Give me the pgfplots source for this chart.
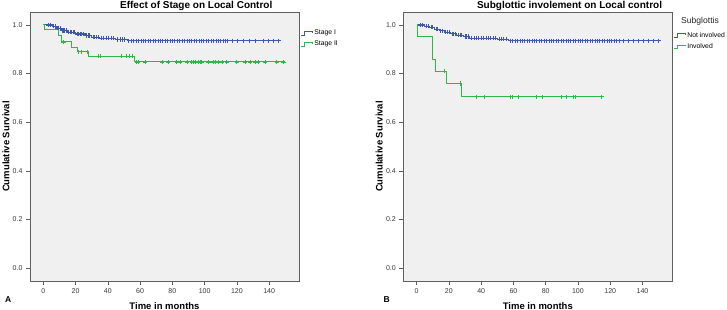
\documentclass[border=0pt]{standalone}
\usepackage{fontspec}
\setmainfont{Liberation Sans}
\usepackage{pgfplots}
\pgfplotsset{compat=1.18}
\definecolor{spssblue}{RGB}{62,88,172}
\definecolor{spssgreen}{RGB}{46,184,72}
\definecolor{bggray}{RGB}{240,240,240}
\definecolor{framegray}{RGB}{95,95,95}
\definecolor{ticktext}{RGB}{55,55,55}
\pgfplotsset{
 kmstyle/.style={
  scale only axis, width=269pt, height=269pt,
  xmin=-8.25, xmax=158.5, ymin=-0.053, ymax=1.053,
  axis background/.style={fill=bggray},
  axis line style={draw=framegray, line width=0.9pt},
  xtick={0,20,...,140}, ytick={0,0.2,0.4,0.6,0.8,1.0},
  tick align=outside, tick pos=left,
  major tick length=4pt,
  every tick/.style={framegray, line width=0.6pt},
  tick label style={font=\fontsize{7}{8}\selectfont, text=ticktext},
  yticklabel style={/pgf/number format/.cd, fixed, fixed zerofill, precision=1},
  /pgf/number format/assume math mode=true,
  xlabel={Time in months}, ylabel={Cumulative Survival},
  label style={font=\bfseries\fontsize{9.5}{11}\selectfont},
  xlabel style={at={(rel axis cs:0.5,-0.1041)}, anchor=base},
  ylabel style={at={(rel axis cs:-0.0892,0.5)}, anchor=center},
  every axis title shift=0pt,
  title style={at={(axis description cs:0.618,1.0123)}, anchor=base, font=\bfseries\fontsize{10}{12}\selectfont},
  legend cell align=left,
  legend image code/.code={\draw[line width=0.8pt, #1] (0pt,-1.8pt) -- (3.5pt,-1.8pt) -- (3.5pt,1.8pt) -- (11pt,1.8pt) -- (11pt,0.6pt);},
  legend style={draw=none, fill=none, inner sep=0pt, outer sep=0pt,
    font=\fontsize{6.8}{8}\selectfont, row sep=0.8pt, anchor=north west,
    /tikz/every even column/.append style={column sep=1pt}},
 },
 kmline/.style={const plot, line width=0.95pt, no marks},
 kmcens/.style={only marks, mark=+, mark size=2.1pt, mark options={line width=0.65pt}, forget plot},
}
\begin{document}
\begin{tikzpicture}
\useasboundingbox (0,0) rectangle (727pt,310pt);
% ---------------- Panel A ----------------
\begin{axis}[kmstyle, at={(30pt,29pt)}, anchor=south west,
  title={Effect of Stage on Local Control},
  legend style={at={(rel axis cs:1.006,0.94)}}]
\addplot[kmline, color=spssblue] table {
t S
0 1.000
6 0.994
8 0.986
11 0.977
15 0.970
20 0.963
26 0.956
30 0.949
35 0.945
45 0.940
52 0.935
147 0.935
};
\addlegendentry{Stage I}
\addplot[kmline, color=spssgreen] table {
t S
0 1.000
0.5 0.980
9.5 0.955
11 0.930
17.5 0.908
21 0.890
28 0.872
56.6 0.848
150 0.848
};
\addlegendentry{Stage II}
\addplot[kmcens, color=spssblue] table {
t S
3 1.000
4.6 1.000
6.5 0.994
7.2 0.994
8.8 0.986
9.6 0.986
10.3 0.986
11.6 0.977
12.4 0.977
13.2 0.977
14.2 0.977
15.6 0.970
16.5 0.970
17.4 0.970
18.3 0.970
19.2 0.970
20.8 0.963
21.8 0.963
22.8 0.963
23.8 0.963
24.8 0.963
26.8 0.956
27.8 0.956
28.8 0.956
30.8 0.949
31.8 0.949
32.8 0.949
33.8 0.949
36 0.945
37.5 0.945
39 0.945
40.5 0.945
42 0.945
43.5 0.945
46 0.940
47.5 0.940
49 0.940
50.5 0.940
53 0.935
54.5 0.935
56 0.935
57.5 0.935
59 0.935
60.5 0.935
62 0.935
63.5 0.935
65 0.935
66.5 0.935
68 0.935
69.5 0.935
71 0.935
72.5 0.935
74 0.935
75.5 0.935
77 0.935
78.5 0.935
80 0.935
81.5 0.935
83 0.935
84.5 0.935
86 0.935
87.5 0.935
89 0.935
90.5 0.935
92 0.935
93.5 0.935
95 0.935
96.5 0.935
98 0.935
99.5 0.935
101 0.935
102.5 0.935
104 0.935
105.5 0.935
107 0.935
108.5 0.935
110 0.935
111.5 0.935
113 0.935
114 0.935
117 0.935
120.3 0.935
124 0.935
127.6 0.935
131.3 0.935
136.5 0.935
139.6 0.935
142.7 0.935
145.8 0.935
};
\addplot[kmcens, color=spssgreen] table {
t S
12.5 0.930
22 0.890
23.5 0.890
27 0.890
34 0.872
35.5 0.872
48.6 0.872
51.4 0.872
53.4 0.872
55.4 0.872
57.9 0.848
58.9 0.848
63.1 0.848
73.8 0.848
77.5 0.848
82.7 0.848
84.8 0.848
89 0.848
92 0.848
93 0.848
94.1 0.848
96.2 0.848
97.2 0.848
98.2 0.848
102.4 0.848
105.5 0.848
106.6 0.848
108.6 0.848
110.7 0.848
113.7 0.848
119.9 0.848
125.1 0.848
128.2 0.848
131.3 0.848
133.3 0.848
137.6 0.848
144.7 0.848
148.9 0.848
};
\end{axis}
% ---------------- Panel B ----------------
\begin{axis}[kmstyle, at={(403.3pt,29pt)}, anchor=south west,
  title={Subglottic involement on Local control},
  legend style={at={(rel axis cs:1.005,0.932)}}]
\addplot[kmline, color=spssblue] table {
t S
0 1.000
5 0.995
8 0.990
11 0.983
14 0.976
17 0.970
21 0.964
25 0.958
29 0.952
33 0.946
50 0.941
57 0.935
150 0.935
};
\addlegendentry{Not involved}
\addplot[kmline, color=spssgreen] table {
t S
0 1.000
0.4 0.952
9.9 0.857
11.5 0.810
18.2 0.759
27.9 0.705
114.8 0.705
};
\addlegendentry{Involved}
\addplot[kmcens, color=spssblue] table {
t S
2 1.000
3.5 1.000
6 0.995
7 0.995
9 0.990
10 0.990
12 0.983
13 0.983
15 0.976
16 0.976
18 0.970
19 0.970
20 0.970
22 0.964
23 0.964
24 0.964
26 0.958
27 0.958
28 0.958
30 0.952
31 0.952
32 0.952
34 0.946
35.5 0.946
37 0.946
38.5 0.946
40 0.946
41.5 0.946
43 0.946
44.5 0.946
46 0.946
47.5 0.946
49 0.946
51 0.941
52.5 0.941
54 0.941
55.5 0.941
58 0.935
59.5 0.935
61 0.935
62.5 0.935
64 0.935
65.5 0.935
67 0.935
68.5 0.935
70 0.935
71.5 0.935
73 0.935
74.5 0.935
76 0.935
77.5 0.935
79 0.935
80.5 0.935
82 0.935
83.5 0.935
85 0.935
86.5 0.935
88 0.935
89.5 0.935
91 0.935
92.5 0.935
94 0.935
95.5 0.935
97 0.935
98.5 0.935
100 0.935
101.5 0.935
103 0.935
104.5 0.935
106 0.935
107.5 0.935
109 0.935
110.5 0.935
112 0.935
113.5 0.935
115 0.935
116.5 0.935
118 0.935
119.5 0.935
121 0.935
122.5 0.935
124 0.935
125.5 0.935
128 0.935
131.3 0.935
134.4 0.935
137.5 0.935
140.6 0.935
143.7 0.935
146.8 0.935
149.9 0.935
};
\addplot[kmcens, color=spssgreen] table {
t S
17.4 0.810
27.0 0.759
36.8 0.705
42 0.705
57.9 0.705
59.3 0.705
63 0.705
74 0.705
78 0.705
90 0.705
93 0.705
97.2 0.705
98.2 0.705
114.8 0.705
};
\end{axis}
% legend title and panel letters
\node[anchor=base, font=\fontsize{8.6}{10}\selectfont, text=black!85] at (700pt,286.5pt) {Subglottis};
\node[anchor=base, font=\bfseries\fontsize{8.5}{10}\selectfont] at (8.3pt,7pt) {A};
\node[anchor=base, font=\bfseries\fontsize{8.5}{10}\selectfont] at (386.7pt,7pt) {B};
\end{tikzpicture}
\end{document}
